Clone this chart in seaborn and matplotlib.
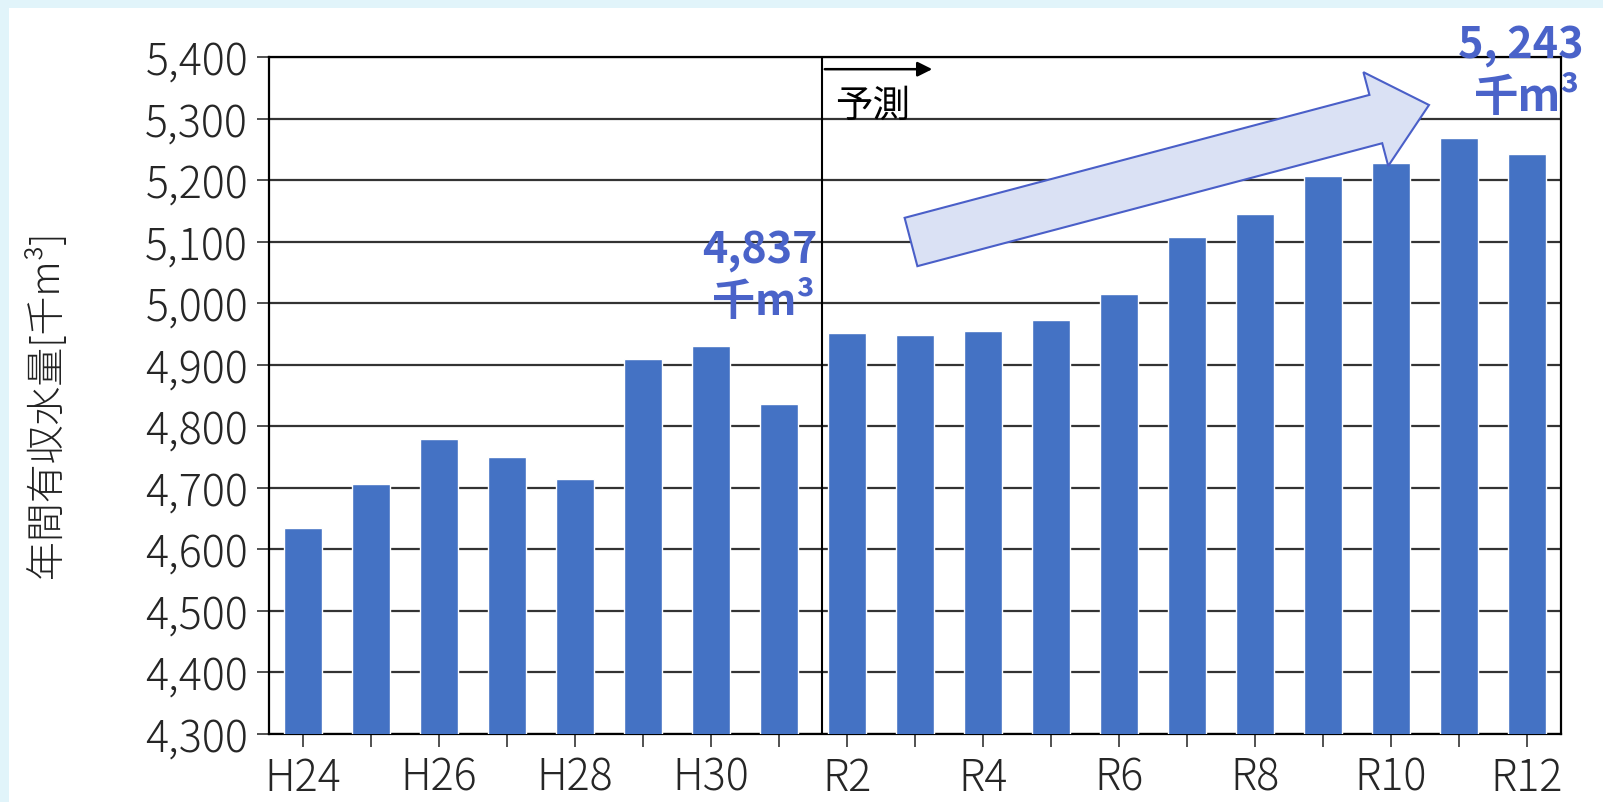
import matplotlib
matplotlib.use('Agg')
import matplotlib.pyplot as plt
from matplotlib.patches import FancyArrow, Rectangle
from matplotlib.ticker import FuncFormatter
import seaborn as sns
import pandas as pd

# 年度と年間有収水量 [千m3]（H31=R1、R2以降は予測）
years = ['H24', 'H25', 'H26', 'H27', 'H28', 'H29', 'H30', 'R1',
         'R2', 'R3', 'R4', 'R5', 'R6', 'R7', 'R8', 'R9', 'R10', 'R11', 'R12']
volumes = [4635, 4707, 4780, 4750, 4715, 4910, 4930, 4837,
           4951, 4948, 4955, 4972, 5015, 5108, 5145, 5207, 5227, 5268, 5243]
shown_labels = ['H24', 'H26', 'H28', 'H30', 'R2', 'R4', 'R6', 'R8', 'R10', 'R12']
y_ticks = list(range(4300, 5401, 100))

df = pd.DataFrame({'year': years, 'volume': volumes})

sns.set_style('white')
plt.rcParams['font.family'] = ['Noto Sans CJK JP', 'DejaVu Sans']

fig = plt.figure(figsize=(16.03, 8.03), dpi=100)
fig.patch.set_facecolor('#e1f4fa')
fig.add_artist(Rectangle((9 / 1603, 0), 1, (803 - 9) / 803, transform=fig.transFigure,
                         facecolor='white', edgecolor='none', zorder=0))

ax = fig.add_axes([269 / 1603, 68 / 803, 1292 / 1603, 677 / 803])
ax.set_facecolor('white')
sns.barplot(data=df, x='year', y='volume', color='#4472c4', width=0.55,
            saturation=1, ax=ax, zorder=3)

ax.set_ylim(4300, 5400)
ax.set_xlim(-0.5, len(years) - 0.5)
ax.set_yticks(y_ticks)
ax.yaxis.set_major_formatter(FuncFormatter(lambda v, p: f'{int(v):,}'))
ax.grid(axis='y', color='#333333', linewidth=1.6, zorder=0)
ax.set_axisbelow(True)

ax.set_xticks(range(len(years)))
ax.set_xticklabels([y if y in shown_labels else '' for y in years])
ax.tick_params(axis='both', bottom=True, left=True, direction='out', length=9,
               width=1.2, color='#333333', labelsize=31, pad=6)
for lab in ax.get_xticklabels() + ax.get_yticklabels():
    lab.set_fontweight('light')

for side in ['left', 'bottom', 'right', 'top']:
    ax.spines[side].set_visible(True)
    ax.spines[side].set_color('black')
    ax.spines[side].set_linewidth(1.6)

ax.set_xlabel('')
ax.set_ylabel('')
fig.text(46 / 1603, (803 - 404) / 803, '年間有収水量[千m³]', rotation=90,
         ha='center', va='center', fontsize=28, fontweight='light', color='#222222')

# 予測 境界線と矢印
ax.axvline(7.63, color='black', linewidth=1.5, zorder=4)
ax.annotate('', xy=(0.5155, 0.982), xytext=(0.428, 0.982), xycoords='axes fraction',
            arrowprops=dict(arrowstyle='-|>', color='black', lw=1.8, mutation_scale=22))
ax.text(0.438, 0.928, '予測', transform=ax.transAxes, ha='left', va='center',
        fontsize=27, color='black')

# 増加傾向の大矢印（ピクセル座標→インチ）
tail_x, tail_y = 911 / 100, (803 - 243) / 100
tip_x, tip_y = 1429 / 100, (803 - 106) / 100
big_arrow = FancyArrow(tail_x, tail_y, tip_x - tail_x, tip_y - tail_y, width=0.50,
                       head_width=0.97, head_length=0.55, length_includes_head=True,
                       transform=fig.dpi_scale_trans, facecolor='#dae1f4',
                       edgecolor='#4a5fc8', linewidth=1.5, zorder=5)
fig.add_artist(big_arrow)

label_color = '#4a63c9'
fig.text(818 / 1603, (803 - 250) / 803, '4,837', ha='right', va='center',
         fontsize=31, fontweight='bold', color=label_color)
fig.text(815 / 1603, (803 - 302) / 803, '千m³', ha='right', va='center',
         fontsize=31, fontweight='bold', color=label_color)
fig.text(1583 / 1603, (803 - 45) / 803, '5, 243', ha='right', va='center',
         fontsize=31, fontweight='bold', color=label_color)
fig.text(1580 / 1603, (803 - 98) / 803, '千m³', ha='right', va='center',
         fontsize=32, fontweight='bold', color=label_color)

fig.savefig('out.png', dpi=100, facecolor=fig.get_facecolor())
